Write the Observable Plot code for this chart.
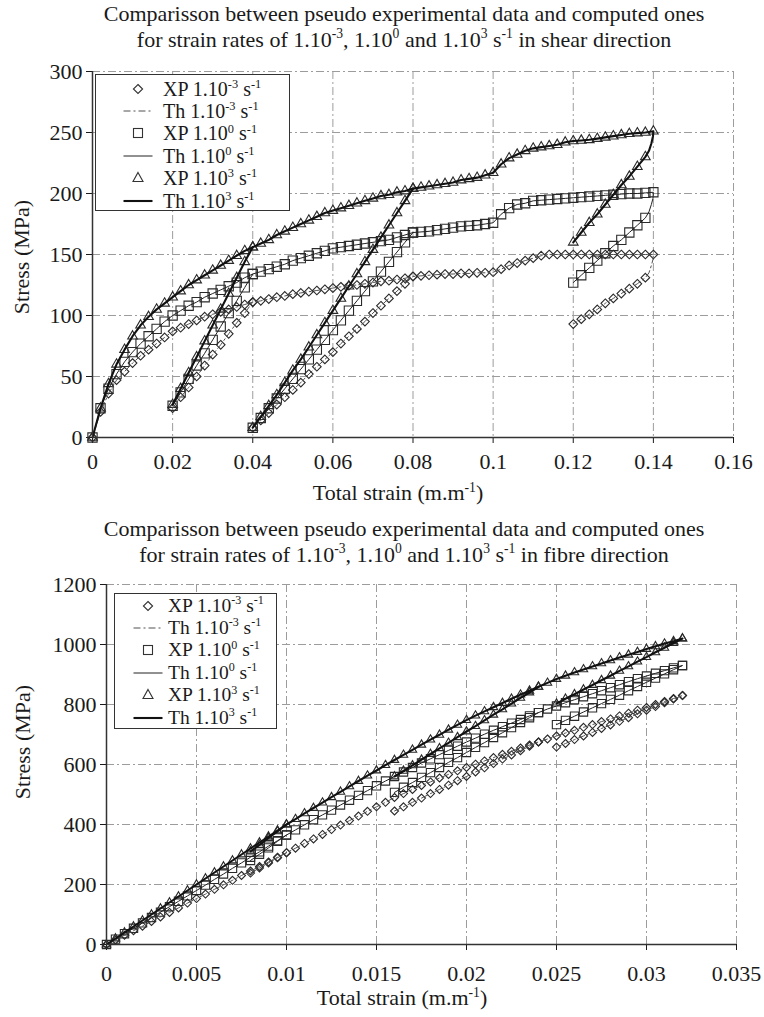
<!DOCTYPE html>
<html><head><meta charset="utf-8">
<script src="https://cdn.jsdelivr.net/npm/d3@7"></script>
<script src="https://cdn.jsdelivr.net/npm/@observablehq/plot@0.6"></script>
<style>
html,body{margin:0;padding:0;background:#fff;}
#page{position:relative;width:764px;height:1017px;overflow:hidden;font-family:"Liberation Serif","Times New Roman",serif;color:#1a1a1a;}
.title{position:absolute;left:44px;width:720px;text-align:center;font-size:22px;line-height:25.5px;white-space:nowrap;}
sup{font-size:0.62em;vertical-align:0;position:relative;top:-0.62em;line-height:0;}
.ylab{position:absolute;font-size:22px;line-height:24px;white-space:nowrap;transform:translate(-50%,-50%) rotate(-90deg);}
.xlab{position:absolute;font-size:22px;line-height:24px;white-space:nowrap;transform:translateX(-50%);}
.legend{position:absolute;background:#fff;border:1px solid #333;box-sizing:border-box;}
.row{position:absolute;height:22px;line-height:22px;white-space:nowrap;}
.plotbox{position:absolute;left:0;}
</style></head><body><div id="page"></div>
<script>
// ---------------- SHEAR (top) ----------------
const shearXTicks = [0, 0.02, 0.04, 0.06, 0.08, 0.1, 0.12, 0.14, 0.16];
const shearYTicks = [0, 50, 100, 150, 200, 250, 300];
const shearStep = 0.002;
// main loading curve, strain 0 .. 0.14
const shearMainDia = [0,21,36,47,54,61,67,72,77,82,87,
  90,93,96,99,101,103,105,107,109,111,
  112,113.5,115,116,117.5,118.5,119.5,120.5,121.5,122.5,
  123.5,124.5,125,126,127,128,128.5,129.5,130.5,132,
  132.5,133,133.5,134,134,134.5,134.5,135,135,135.5,
  138,141,143,145,147,149,150,150,150,150,
  150,150,150,150,150,150,150,150,150,150];
const shearMainSq = [0,24,40,52,62,70,77,83,89,95,100,
  104,108,111,115,118,121,124,127,131,134,
  136,138,140,142,145,147,149,151,153,155,
  156,157,158,159,160,161,162,164,166,168,
  168.5,169,170,171,172,173,173.5,174,175,176,
  183,188,191,192,194,194.5,195,195.5,196,196.5,
  197,197.5,198,198.5,199,199.5,200,200,200.5,201];
const shearMainTri = [0,24,44,60,72,83,92,99,105,110,115,
  120,125,129,133,137,141,145,149,153,156,
  159,162,166,169,172,175,178,181,184,186,
  188,190,192,194,196,198,199,201,202,204,
  205,206,207,208,209,211,212,213,215,217,
  224,229,232,235,237,238,239,240,242,243,
  243.5,244,245,246,247,248,249,249.5,250,251];
// cycle 1: strain 0.02 .. 0.04
const shearC1Dia = [24,33,41,50,59,68,76,85,94,102,111];
const shearC1Sq  = [26,37,48,59,69,80,91,102,112,123,134];
const shearC1Tri = [27,40,53,66,79,92,105,118,131,144,156];
// cycle 2: strain 0.04 .. 0.08
const shearC2Dia = [8,14,20,27,33,39,45,52,58,64,70,77,83,89,95,102,108,114,120,126,132];
const shearC2Sq  = [8,16,24,32,40,48,56,64,72,80,88,96,104,112,120,128,136,144,152,160,168];
const shearC2Tri = [8,17,26,35,45,55,64,74,84,94,104,114,124,134,144,154,164,174,184,194,204];
// cycle 3: strain 0.12 .. 0.138
const shearC3Dia = [93,97,101,105,110,114,118,122,126,131];
const shearC3Sq  = [127,133,139,145,151,157,162,168,174,180];
const shearC3Tri = [160,168,176,183,191,199,207,214,222,230];
// computed unloading hook near 0.14
const shearTailStrain = [0.1399, 0.1395, 0.1389];
const shearTailDia = [146,141,135];
const shearTailSq  = [196,191,185];
const shearTailTri = [247,241,235];

// ---------------- FIBRE (bottom) ----------------
const fibreXTicks = [0, 0.005, 0.01, 0.015, 0.02, 0.025, 0.03, 0.035];
const fibreYTicks = [0, 200, 400, 600, 800, 1000, 1200];
const fibreStep = 0.0005;
// main loading curve, strain 0 .. 0.032
const fibreMainDia = [0,15,31,46,61,77,92,107,122,138,153,
  168,184,199,214,230,245,260,275,291,306,
  321,337,352,367,383,398,413,428,444,459,474,490,
  503,517,530,542,555,567,579,590,
  601,612,623,634,644,655,665,675,685,695,
  705,714,724,733,743,752,762,771,781,790,
  800,810,820,830];
const fibreMainSq = [0,18,36,54,72,90,108,126,144,162,180,
  198,217,235,254,272,291,309,328,346,365,
  382,399,416,432,448,465,481,497,513,529,545,560,
  575,590,605,619,633,647,661,675,
  688,701,714,726,738,750,762,773,785,795,
  806,816,826,836,846,856,866,876,886,895,
  904,913,922,930];
const fibreMainTri = [0,20,40,60,80,100,120,140,160,180,200,
  220,240,260,280,300,320,340,360,380,400,
  418,437,455,473,491,509,527,545,563,580,598,615,
  632,649,666,683,699,716,732,748,
  763,777,791,805,819,833,846,859,872,885,
  896,907,917,927,937,947,957,966,975,985,
  994,1003,1011,1020];
// cycle 1: strain 0.008 .. 0.01
const fibreC1Dia = [238,255,272,289,306];
const fibreC1Sq  = [280,301,322,344,365];
const fibreC1Tri = [310,332,355,377,400];
// cycle 2: strain 0.016 .. 0.024
const fibreC2Dia = [445,459,474,488,503,517,531,546,560,575,589,603,618,632,646,661,675];
const fibreC2Sq  = [507,524,540,557,573,590,607,623,640,657,673,690,706,723,740,756,773];
const fibreC2Tri = [560,579,597,616,635,654,672,691,710,728,747,766,784,803,822,840,859];
// cycle 3: strain 0.025 .. 0.032
const fibreC3Dia = [658,670,683,695,707,720,732,744,756,769,781,793,806,818,830];
const fibreC3Sq  = [733,747,761,775,789,803,817,831,846,860,874,888,902,916,930];
const fibreC3Tri = [803,819,834,850,865,881,896,912,927,943,958,974,989,1005,1020];

// ---------------- helpers ----------------
function seg(x0, step, vals, id) { return vals.map((v, i) => ({x: x0 + i * step, y: v, id})); }
const fmt = d => String(+(+d).toFixed(4));
const FONT = '"Liberation Serif","Times New Roman",serif';
const gridStyle = {stroke: "#9c9c9c", strokeWidth: 1, strokeDasharray: "8,3,2,3"};
const thStyles = [
  {stroke: "#505050", strokeWidth: 1, strokeDasharray: "7,3,2,3"},
  {stroke: "#222", strokeWidth: 1},
  {stroke: "#111", strokeWidth: 2.1}
];

function buildChart(cfg) {
  const xp = cfg.series.map(s => [
    ...seg(0, cfg.step, s.main, "m"),
    ...seg(cfg.c1x, cfg.step, s.c1, "c1"),
    ...seg(cfg.c2x, cfg.step, s.c2, "c2"),
    ...seg(cfg.c3x, cfg.step, s.c3, "c3")
  ]);
  const th = cfg.series.map(s => {
    const m = seg(0, cfg.step, s.main, "m");
    const tail = (s.tail || []).map((v, i) => ({x: cfg.tailX[i], y: v, id: "m"}));
    const c3 = seg(cfg.c3x, cfg.step, s.c3, "m").reverse();
    return [...m, ...tail, ...c3, ...seg(cfg.c1x, cfg.step, s.c1, "c1"), ...seg(cfg.c2x, cfg.step, s.c2, "c2")];
  });
  const marks = [
    Plot.ruleX(cfg.xTicks.filter(d => d > 0), gridStyle),
    Plot.ruleY(cfg.yTicks.filter(d => d > 0), gridStyle)
  ];
  cfg.series.forEach((s, k) => {
    marks.push(Plot.dot(xp[k], {x: "x", y: "y", symbol: s.symbol, r: s.r, stroke: "#2a2a2a", strokeWidth: 1.1, fill: "none"}));
  });
  cfg.series.forEach((s, k) => {
    marks.push(Plot.line(th[k], {x: "x", y: "y", z: "id", ...thStyles[k]}));
  });
  marks.push(Plot.ruleX([0], {stroke: "#333", strokeWidth: 1.5}));
  marks.push(Plot.ruleY([0], {stroke: "#333", strokeWidth: 1.5}));
  return Plot.plot({
    width: 764, height: cfg.height,
    marginTop: cfg.mt, marginBottom: cfg.mb, marginLeft: cfg.ml, marginRight: cfg.mr,
    style: {fontFamily: FONT, fontSize: "22px", color: "#1a1a1a", background: "transparent", overflow: "visible"},
    x: {domain: cfg.xDomain, ticks: cfg.xTicks, tickFormat: fmt, tickSize: 6, tickPadding: cfg.xPad, label: null},
    y: {domain: cfg.yDomain, ticks: cfg.yTicks, tickFormat: fmt, tickSize: 6, tickPadding: 4, label: null},
    marks
  });
}

const page = document.getElementById("page");
function addDiv(cls, html, css) {
  const d = document.createElement("div");
  d.className = cls; d.innerHTML = html; Object.assign(d.style, css || {});
  page.appendChild(d); return d;
}

// top chart
const topBox = addDiv("plotbox", "", {top: "0px"});
topBox.appendChild(buildChart({
  height: 520, mt: 71, mb: 83, ml: 92, mr: 31,
  xDomain: [0, 0.16], yDomain: [0, 300], xTicks: shearXTicks, yTicks: shearYTicks, xPad: 10,
  step: shearStep, c1x: 0.02, c2x: 0.04, c3x: 0.12, tailX: shearTailStrain,
  series: [
    {main: shearMainDia, c1: shearC1Dia, c2: shearC2Dia, c3: shearC3Dia, tail: shearTailDia, symbol: "diamond2", r: 3.9},
    {main: shearMainSq,  c1: shearC1Sq,  c2: shearC2Sq,  c3: shearC3Sq,  tail: shearTailSq,  symbol: "square2", r: 5.9},
    {main: shearMainTri, c1: shearC1Tri, c2: shearC2Tri, c3: shearC3Tri, tail: shearTailTri, symbol: "triangle2", r: 4.6}
  ]
}));

// bottom chart
const botBox = addDiv("plotbox", "", {top: "520px"});
botBox.appendChild(buildChart({
  height: 497, mt: 64, mb: 73, ml: 106, mr: 28,
  xDomain: [0, 0.035], yDomain: [0, 1200], xTicks: fibreXTicks, yTicks: fibreYTicks, xPad: 15,
  step: fibreStep, c1x: 0.008, c2x: 0.016, c3x: 0.025, tailX: [],
  series: [
    {main: fibreMainDia, c1: fibreC1Dia, c2: fibreC2Dia, c3: fibreC3Dia, symbol: "diamond2", r: 3.6},
    {main: fibreMainSq,  c1: fibreC1Sq,  c2: fibreC2Sq,  c3: fibreC3Sq,  symbol: "square2", r: 5.3},
    {main: fibreMainTri, c1: fibreC1Tri, c2: fibreC2Tri, c3: fibreC3Tri, symbol: "triangle2", r: 4.0}
  ]
}));

// titles
const rateText = 'for strain rates of 1.10<sup>-3</sup>, 1.10<sup>0</sup> and 1.10<sup>3</sup> s<sup>-1</sup>';
addDiv("title", 'Comparisson between pseudo experimental data and computed ones<br>' + rateText + ' in shear direction', {top: "1px"});
addDiv("title", 'Comparisson between pseudo experimental data and computed ones<br>' + rateText + ' in fibre direction', {top: "516px"});
// axis titles
addDiv("ylab", "Stress (MPa)", {left: "22px", top: "257px"});
addDiv("ylab", "Stress (MPa)", {left: "23px", top: "742px"});
addDiv("xlab", "Total strain (m.m<sup>-1</sup>)", {left: "398px", top: "481px"});
addDiv("xlab", "Total strain (m.m<sup>-1</sup>)", {left: "402px", top: "986px"});

// legends
const legendLabels = [
  'XP 1.10<sup>-3</sup> s<sup>-1</sup>', 'Th 1.10<sup>-3</sup> s<sup>-1</sup>',
  'XP 1.10<sup>0</sup> s<sup>-1</sup>',  'Th 1.10<sup>0</sup> s<sup>-1</sup>',
  'XP 1.10<sup>3</sup> s<sup>-1</sup>',  'Th 1.10<sup>3</sup> s<sup>-1</sup>'
];
function legendIcon(k, half) {
  const c = 20;
  if (k === 0) return `<path d="M${c},6.5 L${c+4.6},11 L${c},15.5 L${c-4.6},11 Z" fill="none" stroke="#333" stroke-width="1.1"/>`;
  if (k === 2) return `<rect x="${c-4.5}" y="6.5" width="9" height="9" fill="none" stroke="#333" stroke-width="1.1"/>`;
  if (k === 4) return `<path d="M${c},5.5 L${c+5},14.5 L${c-5},14.5 Z" fill="none" stroke="#333" stroke-width="1.1"/>`;
  const st = thStyles[(k - 1) / 2];
  return `<line x1="${c-half}" x2="${c+half}" y1="11" y2="11" stroke="${st.stroke}" stroke-width="${st.strokeWidth}" ${st.strokeDasharray ? `stroke-dasharray="${st.strokeDasharray}"` : ""}/>`;
}
function addLegend(box, symX, half, textX, row0, gap, fontSize) {
  const lg = addDiv("legend", "", {left: box[0] + "px", top: box[1] + "px", width: box[2] + "px", height: box[3] + "px"});
  legendLabels.forEach((lab, k) => {
    const r = document.createElement("div");
    r.className = "row";
    Object.assign(r.style, {left: "0px", top: (row0 + k * gap - 11) + "px", width: (box[2] - 2) + "px", fontSize: fontSize + "px"});
    r.innerHTML = `<svg width="40" height="22" style="position:absolute;left:${symX - 20}px;top:0">${legendIcon(k, half)}</svg><span style="position:absolute;left:${textX}px;top:0">${lab}</span>`;
    lg.appendChild(r);
  });
}
addLegend([95, 74, 195, 137], 42, 14.5, 67, 13.5, 22.4, 20);
addLegend([114, 593, 163, 136], 33, 14.5, 53, 11.5, 22.4, 19.5);
</script></body></html>
